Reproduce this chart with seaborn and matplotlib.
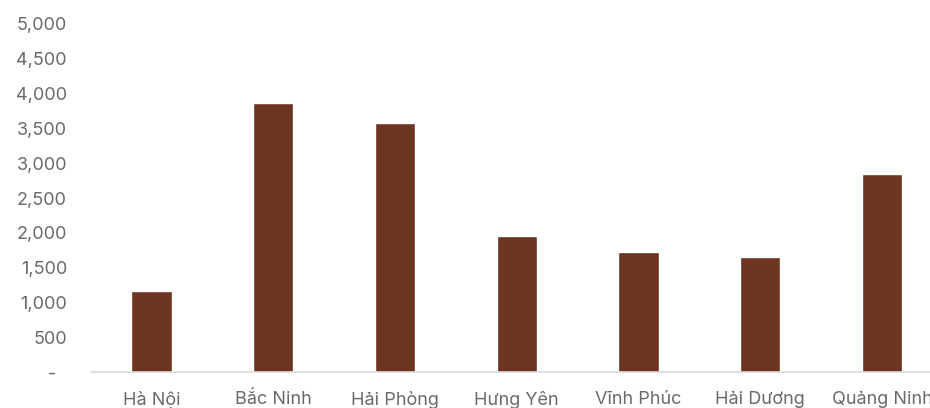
import matplotlib
matplotlib.use("Agg")
import matplotlib.pyplot as plt
import seaborn as sns
import pandas as pd
from matplotlib.ticker import FuncFormatter

provinces = ["Hà Nội", "Bắc Ninh", "Hải Phòng", "Hưng Yên", "Vĩnh Phúc", "Hải Dương", "Quảng Ninh"]
values = [1160, 3860, 3575, 1950, 1720, 1650, 2840]
y_ticks = [0, 500, 1000, 1500, 2000, 2500, 3000, 3500, 4000, 4500, 5000]

df = pd.DataFrame({"province": provinces, "value": values})

sns.set_theme(style="white")
plt.rcParams["font.family"] = ["Inter", "DejaVu Sans"]

fig = plt.figure(figsize=(9.3, 4.08), dpi=100)
ax = fig.add_axes([0.0974, 0.0882, 0.9166, 0.853])

sns.barplot(data=df, x="province", y="value", color="#6C351F", width=0.33,
            saturation=1, ax=ax)

ax.set_ylim(0, 5000)
ax.set_xlim(-0.5, len(provinces) - 0.5)
ax.set_yticks(y_ticks)
ax.yaxis.set_major_formatter(FuncFormatter(lambda v, p: "-  " if v == 0 else f"{int(v):,}"))
ax.set_xlabel("")
ax.set_ylabel("")

for s in ["top", "right", "left"]:
    ax.spines[s].set_visible(False)
ax.spines["bottom"].set_color("#D9D9D9")
ax.spines["bottom"].set_linewidth(1.2)

ax.tick_params(axis="y", length=0, pad=17, labelsize=13, labelcolor="#6A6A6A")
ax.tick_params(axis="x", length=0, pad=14, labelsize=13, labelcolor="#6A6A6A")

fig.savefig("out.png", dpi=100)
